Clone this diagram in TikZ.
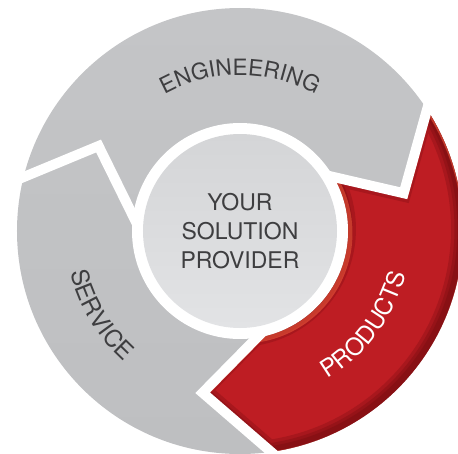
\documentclass[tikz,border=0pt]{standalone}
\usepackage{fontspec}
\setmainfont{TeX Gyre Heros}
\usetikzlibrary{calc,decorations.text}
\definecolor{labelgray}{RGB}{62,62,64}
\definecolor{ringtop}{RGB}{196,197,199}
\definecolor{ringmid}{RGB}{224,225,227}
\definecolor{ringbot}{RGB}{190,191,193}
\definecolor{coretop}{RGB}{212,213,215}
\definecolor{corebot}{RGB}{226,227,229}
\definecolor{prodred}{RGB}{190,29,35}
\definecolor{proddark}{RGB}{90,6,8}
\definecolor{prodlight}{RGB}{232,85,58}
\newcommand\englabel{\fontsize{22.5}{22.5}\selectfont\color{labelgray}}
\newcommand\servlabel{\fontsize{24}{24}\selectfont\color{labelgray}}
\newcommand\prodlabel{\fontsize{24}{24}\selectfont\color{white}}

\begin{document}
\begin{tikzpicture}[x=1pt,y=1pt]
        \tikzstyle{segmentgap}=[draw=white, line width=10]
        \tikzstyle{ringlabel}=[decorate]
        \useasboundingbox (-240,-222) rectangle (218,231);

        \coordinate (b1o) at (33:223);
        \coordinate (b1t) at (13:168);
        \coordinate (b1i) at (30:108);
        \coordinate (b2o) at (-82:223);
        \coordinate (b2t) at (-103:166);
        \coordinate (b2i) at (-81:108);
        \coordinate (b3o) at (166:223);
        \coordinate (b3t) at (149:165);
        \coordinate (b3i) at (172:108);
        \def\prodpath{(33:223) arc[start angle=33, end angle=-82, radius=223] -- (-103:166) -- (-81:108)
            arc[start angle=-81, end angle=30, radius=108] -- (13:168) -- cycle}

        \shade[top color=ringtop, middle color=ringmid, bottom color=ringbot] (0,0) circle (223);
        \fill[prodred] \prodpath;
        \begin{scope}
            \clip \prodpath;
            \foreach \w in {20,13,7}
                \draw[draw=proddark, opacity=.22, line width=\w, shift={(-2,2)}] \prodpath;
            \draw[draw=prodlight, opacity=.6, line width=5, shift={(2,-2)}] \prodpath;
        \end{scope}
        \foreach \k in {1,2,3}
            \draw[segmentgap] ($(b\k t)!1.25!(b\k o)$) -- (b\k t) -- ($(b\k t)!1.25!(b\k i)$);
        \fill[white] (0,0) circle (108);
        \shade[top color=coretop, bottom color=corebot] (0,0) circle (97);

        \node[align=center, text=labelgray, font=\fontsize{23}{29}\selectfont] (core) at (0,0) {YOUR\\SOLUTION\\PROVIDER};
        \path[ringlabel, decoration={text along path, text align=center, text={|\englabel|ENGINEERING}}]
            (125:156) arc[start angle=125, end angle=55, radius=156];
        \path[ringlabel, decoration={text along path, text align=center, text={|\servlabel|SERVICE}}]
            (181:174.5) arc[start angle=181, end angle=241, radius=174.5];
        \path[ringlabel, decoration={text along path, text align=center, text={|\prodlabel|PRODUCTS}}]
            (-67:171.5) arc[start angle=-67, end angle=-7, radius=171.5];
\end{tikzpicture}
\end{document}
